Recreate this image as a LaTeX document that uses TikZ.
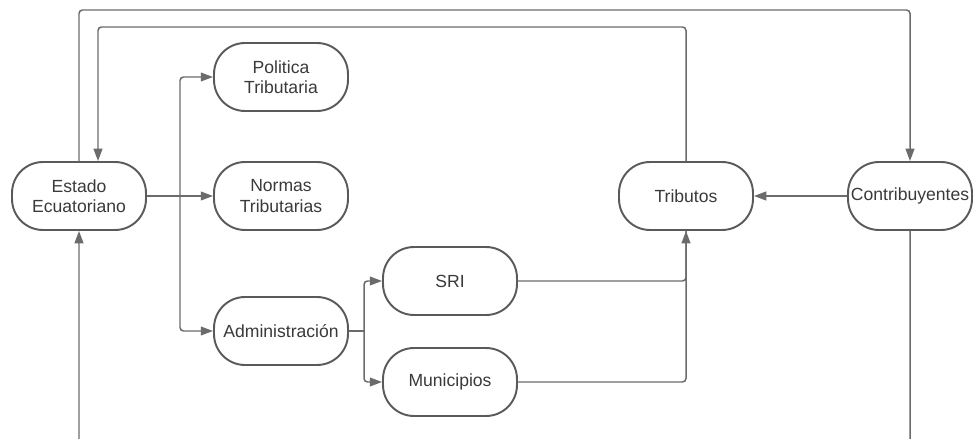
\documentclass[tikz,border=0pt]{standalone}
\usepackage{fontspec}
\setmainfont{Liberation Sans}
\usetikzlibrary{arrows.meta}
\definecolor{lineGray}{HTML}{6B6B6B}
\definecolor{boxGray}{HTML}{5A5A5A}
\definecolor{textGray}{HTML}{3A3A3A}
\tikzset{
  termNode/.style={rectangle, rounded corners=0.62cm, draw=boxGray, line width=1.1pt, fill=white,
    minimum width=2.68cm, minimum height=1.36cm, align=center, text=textGray, inner sep=0pt},
  narrowNode/.style={termNode, minimum width=2.48cm},
  flowLine/.style={draw=lineGray, line width=0.85pt, rounded corners=2pt},
  flowOp/.style={flowLine, -{Triangle[length=7pt,width=5pt]}}
}
\begin{document}
\begin{tikzpicture}[x=0.02cm, y=-0.02cm, font=\fontsize{10}{11.5}\selectfont]
  \useasboundingbox (0,0) rectangle (974,439);
  % nodes
  \node [termNode] (estado) at (79,196) {Estado\\Ecuatoriano};
  \node [termNode] (politica) at (281,77) {Politica\\Tributaria};
  \node [termNode] (normas) at (281,196) {Normas\\Tributarias};
  \node [termNode] (admin) at (281,331) {Administración};
  \node [termNode] (sri) at (450,281) {SRI};
  \node [termNode] (municipios) at (450,382) {Municipios};
  \node [termNode] (tributos) at (686,196) {Tributos};
  \node [narrowNode] (contrib) at (910,196) {Contribuyentes};
  % helper points
  \coordinate (splitA) at (180,196);
  \coordinate (splitB) at (364,331);
  \coordinate (topL) at (79,10);
  \coordinate (topR) at (910,10);
  \coordinate (innerL) at (98,27);
  \coordinate (botR) at (910,443);
  \coordinate (botL) at (79,443);
  % connectors
  \draw [flowOp] (estado.east) -- (normas.west);
  \draw [flowOp] (splitA) |- (politica.west);
  \draw [flowOp] (splitA) |- (admin.west);
  \draw [flowLine] (admin.east) -- (splitB);
  \draw [flowOp] (splitB) |- (sri.west);
  \draw [flowOp] (splitB) |- (municipios.west);
  \draw [flowLine] (municipios.east) -| (tributos.south);
  \draw [flowOp] (sri.east) -| (tributos.south);
  \draw [flowOp] (contrib.west) -- (tributos.east);
  \draw [flowOp] (estado.north) -- (topL) -- (topR) -- (contrib.north);
  \draw [flowOp] (tributos.north) |- (innerL) -- (innerL |- estado.north);
  \draw [flowOp] (contrib.south) -- (botR) -- (botL) -- (estado.south);
\end{tikzpicture}
\end{document}
